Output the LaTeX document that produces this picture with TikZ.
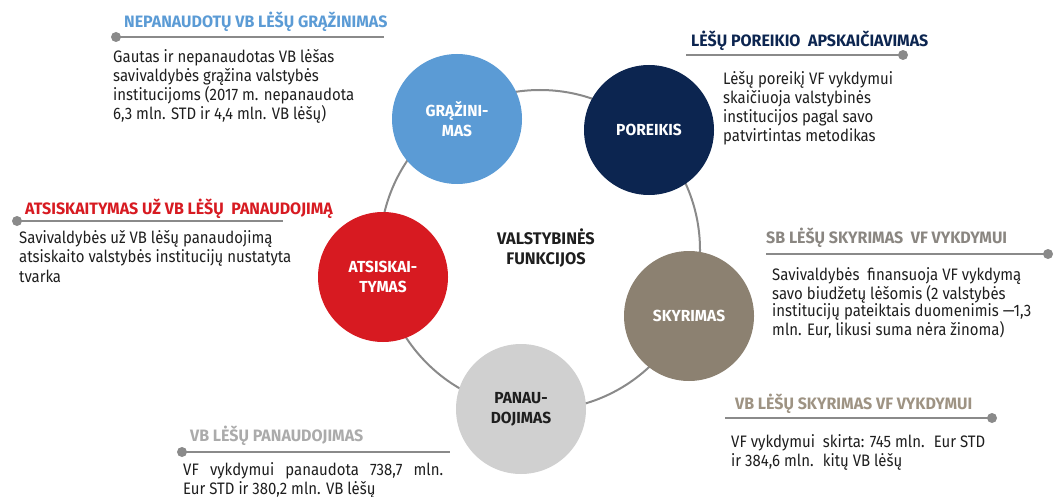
\documentclass[tikz,border=0pt]{standalone}
\usepackage{fontspec}
\setmainfont{Fira Sans}[FakeStretch=0.9]
\newfontfamily\headf{Fira Sans}[FakeStretch=0.97]
\definecolor{gblue}{HTML}{5B9BD5}
\definecolor{navy}{HTML}{0C2550}
\definecolor{cred}{HTML}{D71A21}
\definecolor{taupe}{HTML}{8C8171}
\definecolor{lgray}{HTML}{D0D0D0}
\definecolor{headsb}{HTML}{8A8681}
\definecolor{headvb}{HTML}{9E9383}
\definecolor{headpa}{HTML}{ABABAB}
\definecolor{rulec}{HTML}{8A8A8A}
\definecolor{txt}{HTML}{1E1E1E}
\newcommand\bodytxt[2]{\parbox[t]{#1}{\fontsize{16.6}{19}\selectfont\raggedright #2}}
\tikzset{
  x=1pt, y=-1pt,
  bubble/.style={circle, minimum size=130pt, inner sep=0pt, align=center,
     font=\headf\bfseries\fontsize{16}{20}\selectfont},
  head/.style={anchor=base west, inner sep=0pt, font=\headf\bfseries\fontsize{16.5}{19}\selectfont},
  body/.style={anchor=base west, inner sep=0pt, text=txt},
  rulel/.style={draw=rulec, line width=2.4pt},
  enddot/.style={circle, fill=rulec, minimum size=10pt, inner sep=0pt},
}
\begin{document}
\begin{tikzpicture}
\useasboundingbox (0,0) rectangle (1056,497);
% ring
\coordinate (ctr) at (540,250);
\draw[rulec, line width=2pt] (ctr) circle[radius=160pt];
% bubbles
\node[bubble, fill=gblue, text=white] (g) at (457,119) {GRĄŽINI-\\MAS};
\node[bubble, fill=navy, text=white] (p) at (649,130) {POREIKIS};
\node[bubble, fill=cred, text=white] (a) at (383,277) {ATSISKAI-\\TYMAS};
\node[bubble, fill=taupe, text=white] (s) at (689,316) {SKYRIMAS};
\node[bubble, fill=lgray, text=txt] (u) at (521,409) {PANAU-\\DOJIMAS};
\node[align=center, inner sep=0pt, text=txt, font=\headf\bfseries\fontsize{16.8}{20}\selectfont] (vf) at (546,248) {VALSTYBINĖS\\FUNKCIJOS};

% block 1 (blue)
\node[head, text=gblue] (h1) at (124,28) {NEPANAUDOTŲ VB LĖŠŲ GRĄŽINIMAS};
\node[enddot] (d1) at (116,37) {};
\coordinate (e1) at (384,37);
\draw[rulel] (d1.center) -- (e1);
\node[body] (t1) at (113,63) {\bodytxt{300pt}{Gautas ir nepanaudotas VB lėšas\\savivaldybės grąžina valstybės\\institucijoms (2017 m. nepanaudota\\6,3 mln. STD ir 4,4 mln. VB lėšų)}};

% block 2 (navy)
\node[head, text=navy] (h2) at (691,47) {LĖŠŲ POREIKIO \ APSKAIČIAVIMAS};
\coordinate (e2) at (686,55);
\node[enddot] (d2) at (903,55) {};
\draw[rulel] (e2) -- (d2.center);
\node[body] (t2) at (723,85) {\bodytxt{300pt}{Lėšų poreikį VF vykdymui\\skaičiuoja valstybinės\\institucijos pagal savo\\patvirtintas metodikas}};

% block 3 (red)
\node[head, text=cred] (h3) at (25,214) {ATSISKAITYMAS UŽ VB LĖŠŲ \ PANAUDOJIMĄ};
\node[enddot] (d3) at (17,221) {};
\coordinate (e3) at (283,221);
\draw[rulel] (d3.center) -- (e3);
\node[body] (t3) at (19,243) {\bodytxt{330pt}{\fontsize{16.6}{19.5}\selectfont Savivaldybės už VB lėšų panaudojimą\\atsiskaito valstybės institucijų nustatyta\\tvarka}};

% block 4 (SB)
\node[head, text=headsb] (h4) at (766,243) {SB LĖŠŲ SKYRIMAS \ VF VYKDYMUI};
\coordinate (e4) at (766,254);
\node[enddot] (d4) at (1048,254) {};
\draw[rulel] (e4) -- (d4.center);
\node[body] (t4) at (772,280) {\bodytxt{300pt}{\fontsize{16.6}{17.8}\selectfont Savivaldybės \ finansuoja VF vykdymą\\savo biudžetų lėšomis (2 valstybės\\institucijų pateiktais duomenimis —1,3\\mln. Eur, likusi suma nėra žinoma)}};

% block 5 (panaudojimas)
\node[head, text=headpa] (h5) at (190,441) {VB LĖŠŲ PANAUDOJIMAS};
\node[enddot] (d5) at (182,452) {};
\coordinate (e5) at (450,452);
\draw[rulel] (d5.center) -- (e5);
\node[body] (t5) at (183,475) {\bodytxt{300pt}{\makebox[260pt][s]{VF vykdymui panaudota 738,7 mln.}\\Eur STD ir 380,2 mln. VB lėšų}};

% block 6 (VB skyrimas)
\node[head, text=headvb] (h6) at (735,409) {VB LĖŠŲ SKYRIMAS VF VYKDYMUI};
\coordinate (e6) at (725,418);
\node[enddot] (d6) at (992,418) {};
\draw[rulel] (e6) -- (d6.center);
\node[body] (t6) at (731,447) {\bodytxt{300pt}{\makebox[254pt][s]{VF vykdymui \ skirta: 745 mln. \ Eur STD}\\ir 384,6 mln. \ kitų VB lėšų}};
\end{tikzpicture}
\end{document}
